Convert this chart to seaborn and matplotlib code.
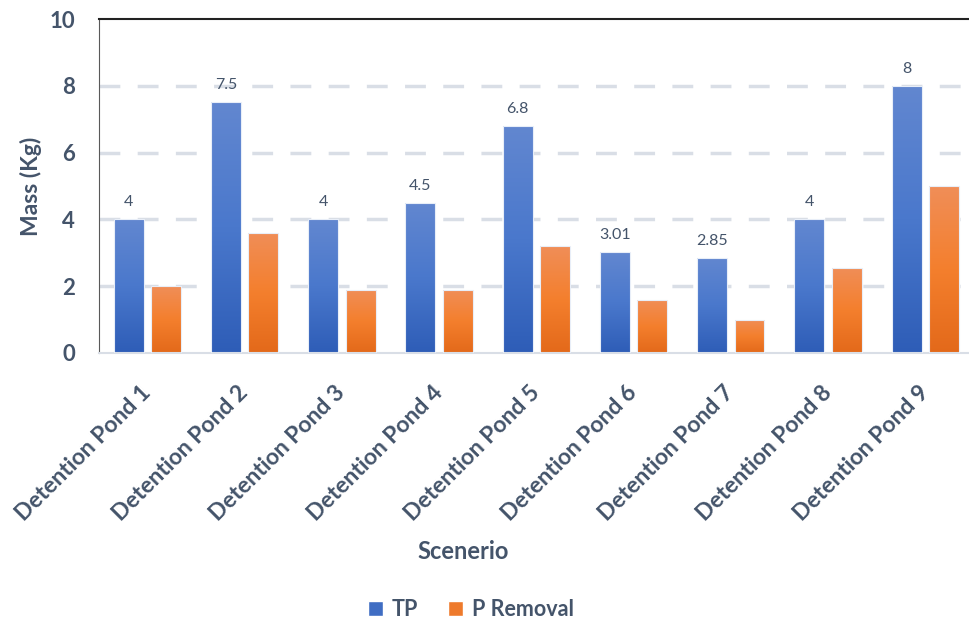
import numpy as np
import pandas as pd
import matplotlib
matplotlib.use("Agg")
import matplotlib.pyplot as plt
import seaborn as sns
from matplotlib.colors import LinearSegmentedColormap
from matplotlib.patches import Patch

# data
ponds = ["Detention Pond %d" % i for i in range(1, 10)]
tp = [4, 7.5, 4, 4.5, 6.8, 3.01, 2.85, 4, 8]
p_removal = [2.0, 3.6, 1.9, 1.9, 3.2, 1.6, 1.0, 2.55, 5.0]
tp_labels = ["4", "7.5", "4", "4.5", "6.8", "3.01", "2.85", "4", "8"]

df = pd.DataFrame({
    "Scenerio": ponds * 2,
    "Mass": tp + p_removal,
    "Series": ["TP"] * 9 + ["P Removal"] * 9,
})

sns.set_theme(style="white")
plt.rcParams["font.family"] = ["Lato", "DejaVu Sans"]
txt = "#44546A"

fig = plt.figure(figsize=(9.69, 6.23), dpi=100)
ax = fig.add_axes([0.102, 0.4334, 0.898, 0.5361])

sns.barplot(data=df, x="Scenerio", y="Mass", hue="Series",
            palette={"TP": "#4472C4", "P Removal": "#ED7D31"},
            width=0.77, gap=0.2, ax=ax, legend=False, zorder=3)

# gradient fill on each bar
blue = LinearSegmentedColormap.from_list("b", ["#2E5DB7", "#4A78CC", "#6287D0"])
orange = LinearSegmentedColormap.from_list("o", ["#E3691A", "#F47F2D", "#F08E58"])
grad = np.linspace(0, 1, 256).reshape(-1, 1)
for i, bar in enumerate(ax.patches):
    cmap = blue if i < 9 else orange
    x0, y0 = bar.get_x(), bar.get_y()
    w, h = bar.get_width(), bar.get_height()
    bar.set_facecolor("none")
    bar.set_edgecolor("#E8EEF8")
    bar.set_linewidth(0.8)
    im = ax.imshow(grad, extent=[x0, x0 + w, y0, y0 + h], origin="lower",
                   cmap=cmap, aspect="auto", zorder=2.5)
    im.set_clip_path(bar)

ax.set_xlim(-0.5, 8.45)
ax.set_ylim(0, 10)
ax.set_yticks([0, 2, 4, 6, 8, 10])

# value labels on TP bars
for i, v in enumerate(tp):
    ax.text(i - 0.1925, v + 0.3, tp_labels[i], ha="center", va="bottom",
            fontsize=11.5, color=txt)

for y in [2, 4, 6, 8]:
    ax.axhline(y, color="#D9DEE6", lw=2.5, ls=(0, (6, 5)), zorder=1)

ax.spines["top"].set_color("#222222")
ax.spines["top"].set_linewidth(1.5)
ax.spines["left"].set_color("#595959")
ax.spines["left"].set_linewidth(0.8)
ax.spines["bottom"].set_color("#D9DEE6")
ax.spines["bottom"].set_linewidth(1.5)
ax.spines["right"].set_visible(False)

ax.tick_params(axis="y", length=0, pad=17, labelsize=16, labelcolor=txt)
ax.tick_params(axis="x", length=0, pad=26, labelsize=16.5, labelcolor=txt)
for t in ax.get_yticklabels():
    t.set_fontweight("bold")
for t in ax.get_xticklabels():
    t.set_rotation(45)
    t.set_ha("right")
    t.set_va("center")
    t.set_rotation_mode("anchor")
    t.set_fontweight("bold")

ax.set_ylabel("Mass (Kg)", fontsize=16.5, fontweight="bold", color=txt)
ax.yaxis.set_label_coords(-0.0655, 0.5)
ax.set_xlabel("Scenerio", fontsize=17, fontweight="bold", color=txt)
ax.xaxis.set_label_coords(0.4184, -0.56)

handles = [Patch(facecolor="#3F6DC3", label="TP"),
           Patch(facecolor="#EE7A2C", label="P Removal")]
leg = fig.legend(handles=handles, loc="center", bbox_to_anchor=(0.486, 0.021),
                 ncol=2, frameon=False, handlelength=0.7, handleheight=0.7,
                 columnspacing=1.4, handletextpad=0.4,
                 prop={"weight": "bold", "size": 15.5})
for t in leg.get_texts():
    t.set_color(txt)

fig.savefig("out.png", dpi=100)
